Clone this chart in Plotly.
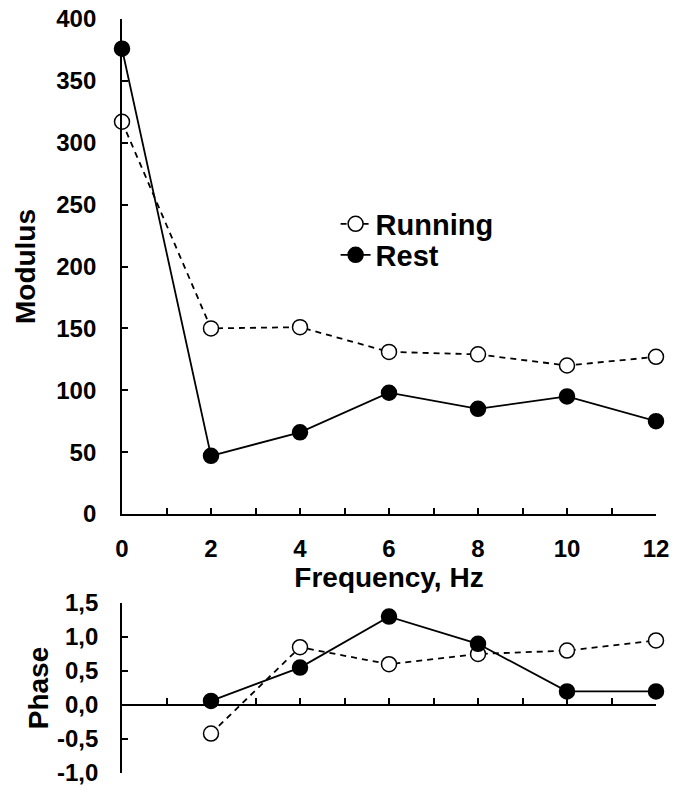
import plotly.graph_objects as go

# Frequency (Hz)
freq = [0, 2, 4, 6, 8, 10, 12]

# Modulus of the response
modulus_running = [317, 150, 151, 131, 129, 120, 127]
modulus_rest = [376, 47, 66, 98, 85, 95, 75]

# Phase of the response (no value at 0 Hz)
phase_running = [None, -0.42, 0.85, 0.60, 0.75, 0.80, 0.95]
phase_rest = [None, 0.06, 0.55, 1.30, 0.90, 0.20, 0.20]

# Phase axis tick labels (decimal comma, plain hyphen for negatives)
phase_ticks = [-1.0, -0.5, 0.0, 0.5, 1.0, 1.5]
phase_ticktext = ["-1,0", "-0,5", "0,0", "0,5", "1,0", "1,5"]

W, H = 675, 792
ML, MR, MT, MB = 122, 19, 19, 19
PH = H - MT - MB

def frac(px):
    # pixel row -> paper fraction
    return (H - MB - px) / PH

top_dom = [frac(514), 1.0]
bot_dom = [0.0, frac(603)]
phase_range = [-1.0, 1.5]
zero_pos = bot_dom[0] + (0 - phase_range[0]) / (phase_range[1] - phase_range[0]) * (bot_dom[1] - bot_dom[0])

FONT = "Liberation Sans"
tick_font = dict(family=FONT, size=24, color="black", weight="bold")
title_font = dict(family=FONT, size=28, color="black", weight="bold")
legend_font = dict(family=FONT, size=29, color="black", weight="bold")

open_marker = dict(symbol="circle", size=15, color="white", line=dict(color="black", width=1.5))
solid_marker = dict(symbol="circle", size=15, color="black", line=dict(color="black", width=1.5))
dash_line = dict(color="black", width=1.8, dash="6px,5px")
solid_line = dict(color="black", width=1.8)

fig = go.Figure()

fig.add_trace(go.Scatter(x=freq, y=modulus_running, name="Running", mode="lines+markers",
                         line=dash_line, marker=open_marker, cliponaxis=False,
                         legend="legend", xaxis="x", yaxis="y"))
fig.add_trace(go.Scatter(x=freq, y=modulus_rest, name="Rest", mode="lines+markers",
                         line=solid_line, marker=solid_marker, cliponaxis=False,
                         legend="legend2", xaxis="x", yaxis="y"))
fig.add_trace(go.Scatter(x=freq, y=phase_running, name="Running", mode="lines+markers",
                         line=dash_line, marker=open_marker, cliponaxis=False,
                         showlegend=False, xaxis="x2", yaxis="y2"))
fig.add_trace(go.Scatter(x=freq, y=phase_rest, name="Rest", mode="lines+markers",
                         line=solid_line, marker=solid_marker, cliponaxis=False,
                         showlegend=False, xaxis="x2", yaxis="y2"))

common_axis = dict(showgrid=False, zeroline=False, showline=True, linecolor="black",
                   linewidth=1.8, ticks="inside", tickcolor="black", tickwidth=1.5,
                   ticklen=6, tickfont=tick_font, automargin=False)

legend_common = dict(xanchor="left", yanchor="middle", font=legend_font,
                     bgcolor="rgba(0,0,0,0)", itemwidth=30, tracegroupgap=0,
                     borderwidth=0)

fig.update_layout(
    width=W, height=H,
    margin=dict(l=ML, r=MR, t=MT, b=MB, autoexpand=False),
    paper_bgcolor="white", plot_bgcolor="white",
    showlegend=True,
    legend=dict(legend_common, x=0.40, y=frac(224)),
    legend2=dict(legend_common, x=0.40, y=frac(255)),
    xaxis=dict(common_axis, domain=[0, 1], range=[0, 12], anchor="y",
               tickmode="linear", tick0=0, dtick=2, ticklabelstandoff=12,
               minor=dict(dtick=1, ticks="inside", ticklen=6, tickcolor="black", tickwidth=1.5),
               title=dict(text="Frequency, Hz", font=title_font, standoff=2)),
    yaxis=dict(common_axis, domain=top_dom, range=[0, 400], anchor="x",
               tickmode="linear", tick0=0, dtick=50, ticklabelstandoff=19,
               title=dict(text="Modulus", font=title_font, standoff=12)),
    xaxis2=dict(common_axis, domain=[0, 1], range=[0, 12], anchor="free",
                position=zero_pos, showticklabels=False,
                tickmode="linear", tick0=0, dtick=1),
    yaxis2=dict(common_axis, domain=bot_dom, range=phase_range, anchor="x2",
                tickmode="array", tickvals=phase_ticks, ticktext=phase_ticktext,
                ticklabelstandoff=17,
                title=dict(text="Phase", font=title_font, standoff=0)),
)

fig.write_html("out.html")
